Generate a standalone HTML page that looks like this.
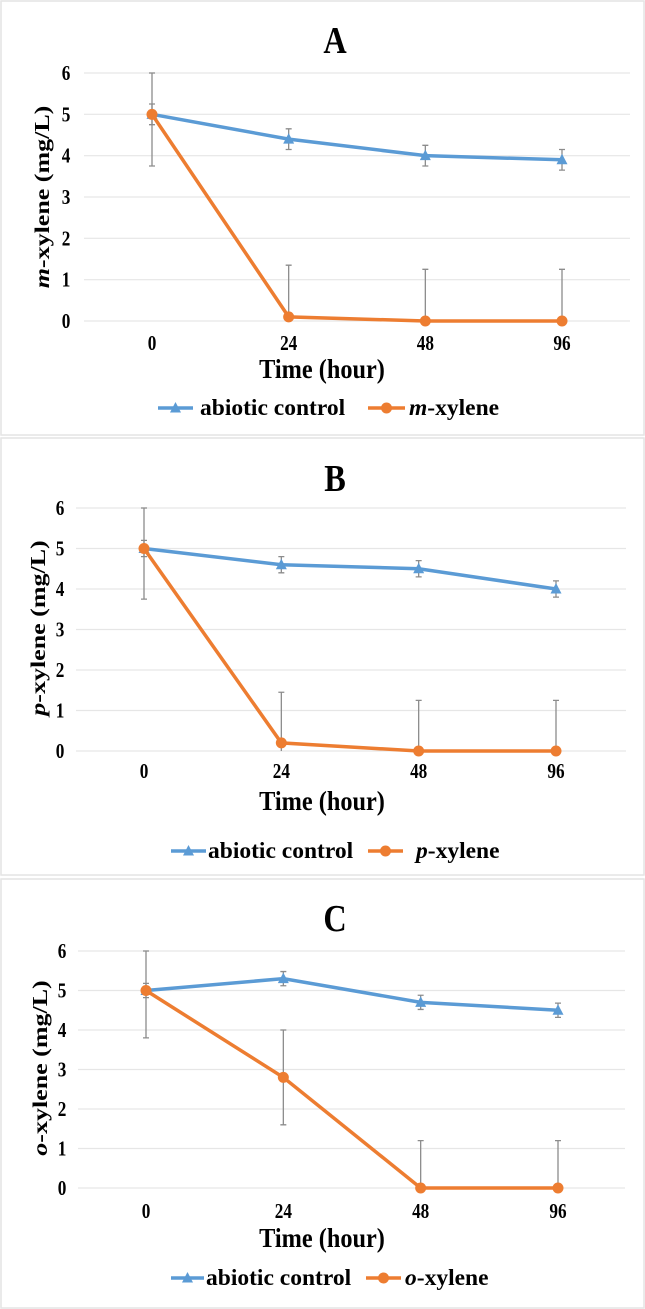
<!DOCTYPE html>
<html><head><meta charset="utf-8"><style>
body{margin:0;background:#fff;}
svg{display:block;font-family:"Liberation Serif",serif;font-weight:bold;}
</style></head><body>
<svg id="fig" width="645" height="1309" viewBox="0 0 645 1309" xmlns="http://www.w3.org/2000/svg"></svg>
<script>
const categories = ["0","24","48","96"];
const yTicks = [0,1,2,3,4,5,6];
const controlA = [5,4.4,4.0,3.9];
const controlErrA = [0.25,0.25,0.25,0.25];
const xyleneA = [5,0.1,0,0];
const xyleneErrA = [1.25,1.25,1.25,1.25];
const controlB = [5,4.6,4.5,4.0];
const controlErrB = [0.2,0.2,0.2,0.2];
const xyleneB = [5,0.2,0,0];
const xyleneErrB = [1.25,1.25,1.25,1.25];
const controlC = [5,5.3,4.7,4.5];
const controlErrC = [0.18,0.18,0.18,0.18];
const xyleneC = [5,2.8,0,0];
const xyleneErrC = [1.2,1.2,1.2,1.2];

const NS="http://www.w3.org/2000/svg";
const svg=document.getElementById('fig');
function mk(tag,attrs,parent){const e=document.createElementNS(NS,tag);for(const k in attrs)e.setAttribute(k,attrs[k]);(parent||svg).appendChild(e);return e;}

const panels=[
 {key:'a',label:'A',pre:'m',ctrl:controlA,ce:controlErrA,xy:xyleneA,xe:xyleneErrA,top:0,bot:436,titleY:53,y6:73,y0:321,x0:152,x3:562,gl:84,gr:630,tickX:66,tickY:350,atY:378,legY:408,yLabX:45,yLabY:197,
  leg:{l1:158,l2:193,t1:200,o1:368,o2:405,t2:409}},
 {key:'b',label:'B',pre:'p',ctrl:controlB,ce:controlErrB,xy:xyleneB,xe:xyleneErrB,top:437,bot:876,titleY:491,y6:508,y0:751,x0:144,x3:556,gl:76,gr:626,tickX:60,tickY:778,atY:810,legY:851,yLabX:41,yLabY:628,
  leg:{l1:171,l2:206,t1:208,o1:368,o2:403,t2:416}},
 {key:'c',label:'C',pre:'o',ctrl:controlC,ce:controlErrC,xy:xyleneC,xe:xyleneErrC,top:878,bot:1309,titleY:931,y6:951,y0:1188,x0:146,x3:558,gl:78,gr:625,tickX:62,tickY:1218,atY:1247,legY:1278,yLabX:43,yLabY:1068,
  leg:{l1:171,l2:204,t1:206,o1:366,o2:401,t2:405}}
];
const BLUE="#5b9bd5", ORANGE="#ed7d31";

panels.forEach(P=>{
  const g=mk('g',{});
  
  
  const fr=mk('rect',{x:1,y:P.top+1,width:643,height:P.bot-P.top-2,fill:'none',stroke:'#e4e4e4','stroke-width':1.5},g);
  
  
  const yS=v=>P.y0+(P.y6-P.y0)*v/6;
  const step=(P.x3-P.x0)/3;
  const xS=i=>P.x0+i*step;
  const t=mk('text',{x:0,y:0,'text-anchor':'middle','font-size':38,transform:`translate(335,${P.titleY}) scale(0.85,1)`},g);t.textContent=P.label;
  
  
  yTicks.forEach(v=>{
    const l=mk('line',{x1:P.gl,x2:P.gr,y1:yS(v),y2:yS(v),stroke:'#e6e6e6','stroke-width':1.2},g);
    
    
    const tx=mk('text',{x:0,y:0,'text-anchor':'middle','font-size':21,transform:`translate(${P.tickX},${yS(v)+7}) scale(0.82,1)`},g);tx.textContent=v;
    
    
  });
  categories.forEach((c,i)=>{
    const tx=mk('text',{x:0,y:0,'text-anchor':'middle','font-size':21,transform:`translate(${xS(i)},${P.tickY}) scale(0.82,1)`},g);tx.textContent=c;
    
    
  });
  const xt=mk('text',{x:0,y:0,'text-anchor':'middle','font-size':27,transform:`translate(322,${P.atY}) scale(0.9,1)`},g);xt.textContent='Time (hour)';
  
  
  const yt=mk('text',{x:0,y:0,'text-anchor':'middle','font-size':26,transform:`translate(${P.yLabX+4},${P.yLabY}) rotate(-90) scale(1,0.8)`},g);
  yt.innerHTML=`<tspan font-style="italic">${P.pre}</tspan>-xylene (mg/L)`;
  
  
  function errs(vals,es,name){
    vals.forEach((v,i)=>{
      const lo=Math.max(0,v-es[i]),hi=Math.min(6,v+es[i]);
      const eb=mk('path',{d:`M${xS(i)},${yS(lo)}V${yS(hi)}M${xS(i)-3},${yS(hi)}h6`+(lo>0?`M${xS(i)-3},${yS(lo)}h6`:''),stroke:'#8c8c8c','stroke-width':1.3,fill:'none'},g);
      
      
    });
  }
  errs(P.xy,P.xe,'xylene-error-bar');
  errs(P.ctrl,P.ce,'control-error-bar');
  const cl=mk('polyline',{points:P.ctrl.map((v,i)=>xS(i)+','+yS(v)).join(' '),fill:'none',stroke:BLUE,'stroke-width':3.5},g);
  
  
  P.ctrl.forEach((v,i)=>{
    const x=xS(i),y=yS(v);
    const m=mk('polygon',{points:`${x},${y-6} ${x-5.5},${y+4.5} ${x+5.5},${y+4.5}`,fill:BLUE},g);
    
    
  });
  const ol=mk('polyline',{points:P.xy.map((v,i)=>xS(i)+','+yS(v)).join(' '),fill:'none',stroke:ORANGE,'stroke-width':3.5},g);
  
  
  P.xy.forEach((v,i)=>{
    const m=mk('circle',{cx:xS(i),cy:yS(v),r:5.5,fill:ORANGE},g);
    
    
  });
  const L=P.leg,ly=P.legY;
  const lg=mk('g',{},g);
  
  
  const e1=mk('g',{},lg);
  
  
  mk('line',{x1:L.l1,x2:L.l2,y1:ly,y2:ly,stroke:BLUE,'stroke-width':3.5},e1);
  const mx=(L.l1+L.l2)/2;
  mk('polygon',{points:`${mx},${ly-6} ${mx-5.5},${ly+4.5} ${mx+5.5},${ly+4.5}`,fill:BLUE},e1);
  const lt1=mk('text',{x:L.t1,y:ly+7,'font-size':23.5},e1);lt1.textContent='abiotic control';
  const e2=mk('g',{},lg);
  
  
  mk('line',{x1:L.o1,x2:L.o2,y1:ly,y2:ly,stroke:ORANGE,'stroke-width':3.5},e2);
  mk('circle',{cx:(L.o1+L.o2)/2,cy:ly,r:5.5,fill:ORANGE},e2);
  const lt2=mk('text',{x:L.t2,y:ly+7,'font-size':23.5},e2);
  lt2.innerHTML=`<tspan font-style="italic">${P.pre}</tspan>-xylene`;
});
</script>
</body></html>
